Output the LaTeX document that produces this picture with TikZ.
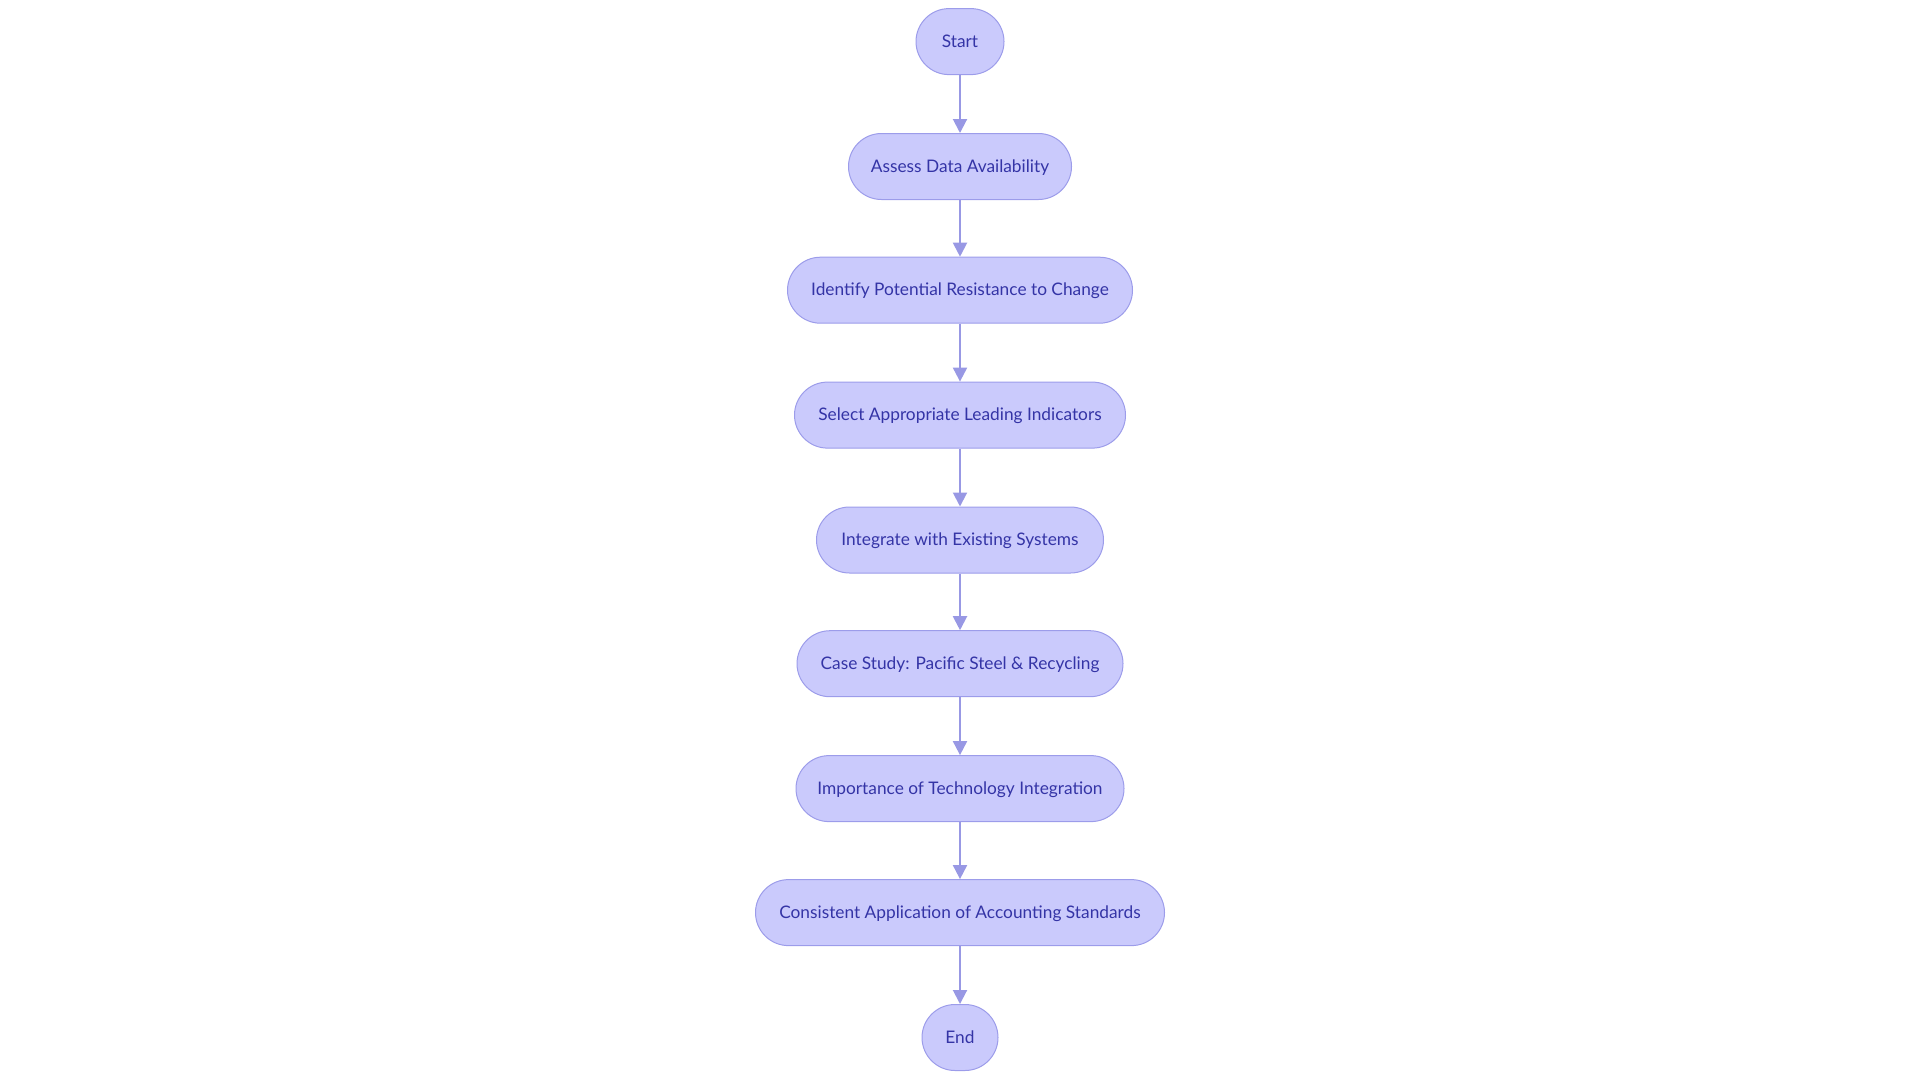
\documentclass[tikz,border=0pt]{standalone}
\usepackage{fontspec}
\setmainfont{Lato}
\usetikzlibrary{arrows.meta}
\definecolor{nodefill}{HTML}{CACAFC}
\definecolor{nodeline}{HTML}{9C9CEA}
\definecolor{nodetext}{HTML}{3434A6}
\definecolor{edgecol}{HTML}{9898E4}
\tikzset{
  stadium/.style={draw=nodeline, fill=nodefill, line width=1pt, rounded corners=33pt,
    minimum height=66pt, inner sep=0pt, text height=12.5pt, text depth=1pt,
    text=nodetext, font=\fontsize{17.3}{20}\selectfont},
  flow/.style={draw=edgecol, line width=2pt, -{Triangle[length=14pt,width=14pt]}}
}
\begin{document}
\begin{tikzpicture}[x=1pt,y=-1pt]
\useasboundingbox (0,0) rectangle (1920,1080);
\node[stadium, minimum width=88pt] (n0) at (960,41.6) {Start};
\node[stadium, minimum width=223pt] (n1) at (960,166.5) {Assess Data Availability};
\node[stadium, minimum width=345pt] (n2) at (960,290.2) {Identify Potential Resistance to Change};
\node[stadium, minimum width=331pt] (n3) at (960,415.1) {Select Appropriate Leading Indicators};
\node[stadium, minimum width=287pt] (n4) at (960,540) {Integrate with Existing Systems};
\node[stadium, minimum width=326pt] (n5) at (960,663.7) {Case Study: Pacific Steel \& Recycling};
\node[stadium, minimum width=328pt] (n6) at (960,788.6) {Importance of Technology Integration};
\node[stadium, minimum width=409pt] (n7) at (960,912.6) {Consistent Application of Accounting Standards};
\node[stadium, minimum width=76pt] (n8) at (960,1037.5) {End};
\foreach \a/\b in {n0/n1,n1/n2,n2/n3,n3/n4,n4/n5,n5/n6,n6/n7,n7/n8}
  \draw[flow] (\a) -- (\b);
\end{tikzpicture}
\end{document}
